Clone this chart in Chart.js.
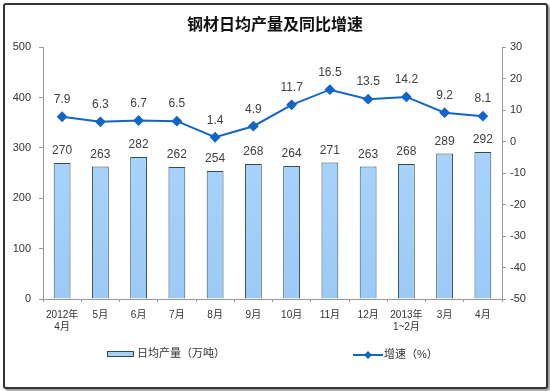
<!DOCTYPE html>
<html>
<head>
<meta charset="utf-8">
<script src="https://cdn.jsdelivr.net/npm/chart.js@4.4.1/dist/chart.umd.min.js"></script>
<style>
  html, body { margin: 0; padding: 0; background: #fff; }
  #frame {
    position: absolute; left: 3px; top: 3px; width: 541px; height: 382px;
    border: 2px solid #333; border-radius: 3px; box-shadow: 2px 2px 2px #999;
    background: #fff;
  }
  #wrap { position: absolute; left: 0; top: 0; width: 550px; height: 391px; }
</style>
</head>
<body>
<div id="frame"></div>
<div id="wrap"><canvas id="c" width="550" height="391"></canvas></div>
<script>
const labels = [['2012年', '4月'], '5月', '6月', '7月', '8月', '9月', '10月', '11月', '12月', ['2013年', '1~2月'], '3月', '4月'];
const output = [270, 263, 282, 262, 254, 268, 264, 271, 263, 268, 289, 292];   // 日均产量（万吨）
const growth = [7.9, 6.3, 6.7, 6.5, 1.4, 4.9, 11.7, 16.5, 13.5, 14.2, 9.2, 8.1]; // 增速（%）

const FONT = '"Liberation Sans", Arial, "Noto Sans CJK SC", sans-serif';
const LINE_BLUE = '#1265c8';

// value labels above bars and points, plus the hand drawn legend
const labelPlugin = {
  id: 'valueLabels',
  afterDatasetsDraw(chart) {
    const c = chart.ctx;
    c.save();
    c.font = '12px ' + FONT;
    c.fillStyle = '#404040';
    c.textAlign = 'center';
    c.textBaseline = 'middle';
    chart.getDatasetMeta(0).data.forEach((el, i) => {
      c.fillText(String(output[i]), el.x, el.y - 12);
    });
    chart.getDatasetMeta(1).data.forEach((el, i) => {
      c.fillText(growth[i].toFixed(1), el.x, el.y - 17);
    });

    // legend
    c.font = '11px ' + FONT;
    c.textAlign = 'left';
    c.fillStyle = '#a6cff7';
    c.fillRect(107.5, 351.5, 26, 5);
    c.strokeStyle = '#2f4f4f';
    c.lineWidth = 1;
    c.strokeRect(107.5, 351.5, 26, 5);
    c.fillStyle = '#333';
    c.fillText('日均产量（万吨）', 137, 354);

    c.strokeStyle = LINE_BLUE;
    c.lineWidth = 2;
    c.beginPath();
    c.moveTo(353, 355);
    c.lineTo(383, 355);
    c.stroke();
    c.fillStyle = LINE_BLUE;
    c.beginPath();
    c.moveTo(368, 351); c.lineTo(372, 355); c.lineTo(368, 359); c.lineTo(364, 355);
    c.closePath();
    c.fill();
    c.fillStyle = '#333';
    c.fillText('增速（%）', 384, 355);
    c.restore();
  }
};

const ctx = document.getElementById('c').getContext('2d');
const barFill = ctx.createLinearGradient(0, 140, 0, 298);
barFill.addColorStop(0, '#a9d3fb');
barFill.addColorStop(1, '#9ccaf6');

new Chart(ctx, {
  type: 'bar',
  data: {
    labels: labels,
    datasets: [
      {
        type: 'bar',
        label: '日均产量（万吨）',
        data: output,
        yAxisID: 'y',
        backgroundColor: barFill,
        borderColor: '#2f4f4f',
        borderWidth: 1,
        barPercentage: 0.44,
        categoryPercentage: 1,
        order: 2
      },
      {
        type: 'line',
        label: '增速（%）',
        data: growth,
        yAxisID: 'y1',
        borderColor: LINE_BLUE,
        backgroundColor: LINE_BLUE,
        borderWidth: 2,
        pointStyle: 'rectRot',
        pointRadius: 4,
        pointHoverRadius: 4,
        tension: 0,
        order: 1
      }
    ]
  },
  options: {
    responsive: false,
    animation: false,
    layout: { padding: { left: 0, right: 0, top: 0, bottom: 51 } },
    plugins: {
      legend: { display: false },
      tooltip: { enabled: false },
      title: {
        display: true,
        text: '钢材日均产量及同比增速',
        color: '#111',
        font: { family: FONT, size: 16, weight: '600' },
        padding: { top: 16, bottom: 12 }
      }
    },
    scales: {
      x: {
        offset: true,
        grid: { display: true, offset: true, drawOnChartArea: false, tickLength: 3, color: '#999' },
        border: { display: true, color: '#999' },
        ticks: { color: '#333', font: { family: FONT, size: 10 }, maxRotation: 0, autoSkip: false, padding: 7 }
      },
      y: {
        position: 'left',
        min: 0, max: 500,
        afterFit(s) { s.width = 43; },
        ticks: { stepSize: 100, color: '#333', font: { family: FONT, size: 11 }, padding: 8 },
        grid: { drawOnChartArea: false, tickLength: 4, color: '#999' },
        border: { display: true, color: '#999' }
      },
      y1: {
        position: 'right',
        min: -50, max: 30,
        afterFit(s) { s.width = 48; },
        ticks: { stepSize: 10, color: '#333', font: { family: FONT, size: 11 }, padding: 4 },
        grid: { drawOnChartArea: false, tickLength: 4, color: '#999' },
        border: { display: true, color: '#999' }
      }
    }
  },
  plugins: [labelPlugin]
});
</script>
</body>
</html>
